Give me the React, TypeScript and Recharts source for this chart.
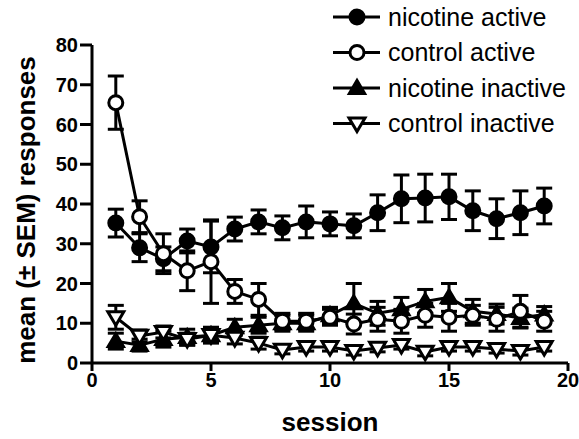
import React from 'react';
import { LineChart, Line, XAxis, YAxis, ErrorBar } from 'recharts';

const sessions = [1, 2, 3, 4, 5, 6, 7, 8, 9, 10, 11, 12, 13, 14, 15, 16, 17, 18, 19];
const nicActive = [35.2, 29, 26.2, 30.7, 29.2, 33.7, 35.5, 34, 35.5, 35, 34.5, 37.8, 41.3, 41.5, 41.8, 38.3, 36.3, 37.8, 39.5];
const nicActiveErr = [3.5, 3.5, 3, 3, 6.5, 3, 3, 3, 4, 3, 3, 4.5, 6, 6, 5.7, 5, 5, 5.5, 4.5];
const ctrlActive = [65.5, 36.8, 27.5, 23.2, 25.5, 18, 16, 10.5, 10.5, 11.5, 9.8, 11, 10.5, 12, 11.5, 12, 11, 13, 10.5];
const ctrlActiveErr = [6.7, 4, 5, 5, 10.5, 3, 4, 2, 2, 2, 2.5, 3, 3, 3, 3.5, 2.5, 3, 4, 2.5];
const nicInactive = [5.5, 4.5, 6, 6.5, 7, 9, 9.5, 10, 10, 12, 15, 12.5, 13.5, 15.5, 16.5, 13, 12.3, 11.3, 12.2];
const nicInactiveErr = [2, 1.5, 2, 2, 2, 2, 2, 2, 2, 2, 5, 3, 3, 3, 3.5, 3, 2.5, 2.5, 2];
const ctrlInactive = [11.5, 6.8, 7.8, 6, 7, 6.3, 5, 3.3, 4, 4, 3, 3.8, 4.5, 2.8, 4, 4, 3.5, 3, 4];
const ctrlInactiveErr = [3, 1.5, 1.5, 1.5, 1.5, 1.5, 1.5, 1, 1, 1, 1, 1, 1, 1, 1, 1, 1, 1, 1];

const xTicks = [0, 5, 10, 15, 20];
const yTicks = [0, 10, 20, 30, 40, 50, 60, 70, 80];

const seriesNames = ['nicotine active', 'control active', 'nicotine inactive', 'control inactive'];

const data = sessions.map((s, i) => ({
  session: s,
  na: nicActive[i], naErr: nicActiveErr[i],
  ca: ctrlActive[i], caErr: ctrlActiveErr[i],
  ni: nicInactive[i], niErr: nicInactiveErr[i],
  ci: ctrlInactive[i], ciErr: ctrlInactiveErr[i],
}));

const FONT = 'Liberation Sans, Arial, sans-serif';

type Shape = 'filledCircle' | 'openCircle' | 'upTri' | 'downTri';

function Marker({ cx, cy, shape }: { cx: number; cy: number; shape: Shape }) {
  if (cx == null || cy == null) return null;
  if (shape === 'filledCircle') return <circle cx={cx} cy={cy} r={7.5} fill="#000" stroke="#000" strokeWidth={2} />;
  if (shape === 'openCircle') return <circle cx={cx} cy={cy} r={7} fill="#fff" stroke="#000" strokeWidth={3} />;
  if (shape === 'upTri') {
    const s = 8.5;
    return <polygon points={`${cx},${cy - s} ${cx - s},${cy + s * 0.7} ${cx + s},${cy + s * 0.7}`} fill="#000" stroke="#000" strokeWidth={2} strokeLinejoin="miter" />;
  }
  const s = 8;
  return <polygon points={`${cx - s},${cy - s * 0.7} ${cx + s},${cy - s * 0.7} ${cx},${cy + s}`} fill="#fff" stroke="#000" strokeWidth={3} strokeLinejoin="miter" />;
}

const shapes: Shape[] = ['filledCircle', 'openCircle', 'upTri', 'downTri'];

const dotFor = (shape: Shape) => (props: any) => <Marker key={`${shape}-${props.index}`} cx={props.cx} cy={props.cy} shape={shape} />;

const LegendBox = () => (
  <svg width={251} height={145} style={{ position: 'absolute', left: 328, top: 0 }}>
    {seriesNames.map((name, i) => {
      const y = 17 + i * 35.5;
      return (
        <g key={name}>
          <line x1={5} y1={y} x2={52} y2={y} stroke="#000" strokeWidth={3} />
          <Marker cx={29} cy={y} shape={shapes[i]} />
          <text x={60} y={y + 8.5} fontFamily={FONT} fontSize={25} fill="#000">{name}</text>
        </g>
      );
    })}
  </svg>
);

const YLabel = () => (
  <text x={35} y={210} transform="rotate(-90 35 210)" textAnchor="middle" fontFamily={FONT} fontWeight="bold" fontSize={26} fill="#000">
    mean (± SEM) responses
  </text>
);

const XLabel = () => (
  <text x={330} y={431} textAnchor="middle" fontFamily={FONT} fontWeight="bold" fontSize={26} fill="#000">
    session
  </text>
);

export default function App() {
  const errProps = { width: 8, strokeWidth: 3, stroke: '#000', direction: 'y' as const };
  return (
    <div style={{ position: 'absolute', left: 0, top: 0, width: 579, height: 439, overflow: 'hidden', background: '#fff' }}>
      <LineChart width={579} height={439} data={data} margin={{ top: 45, right: 11, left: 0, bottom: 26 }}>
        <XAxis
          dataKey="session"
          type="number"
          domain={[0, 20]}
          ticks={xTicks}
          tickSize={8}
          tickMargin={2}
          axisLine={{ stroke: '#000', strokeWidth: 3 }}
          tickLine={{ stroke: '#000', strokeWidth: 3 }}
          tick={{ fill: '#000', fontFamily: FONT, fontWeight: 'bold', fontSize: 20 }}
          height={50}
          label={{ content: () => <XLabel /> }}
        />
        <YAxis
          type="number"
          domain={[0, 80]}
          ticks={yTicks}
          tickSize={12}
          tickMargin={2}
          width={92}
          axisLine={{ stroke: '#000', strokeWidth: 3 }}
          tickLine={{ stroke: '#000', strokeWidth: 3 }}
          tick={{ fill: '#000', fontFamily: FONT, fontWeight: 'bold', fontSize: 20 }}
          label={{ content: () => <YLabel /> }}
        />
        <Line dataKey="na" name={seriesNames[0]} stroke="#000" strokeWidth={3} isAnimationActive={false} dot={dotFor('filledCircle')} activeDot={false}>
          <ErrorBar dataKey="naErr" {...errProps} />
        </Line>
        <Line dataKey="ni" name={seriesNames[2]} stroke="#000" strokeWidth={3} isAnimationActive={false} dot={dotFor('upTri')} activeDot={false}>
          <ErrorBar dataKey="niErr" {...errProps} />
        </Line>
        <Line dataKey="ca" name={seriesNames[1]} stroke="#000" strokeWidth={3} isAnimationActive={false} dot={dotFor('openCircle')} activeDot={false}>
          <ErrorBar dataKey="caErr" {...errProps} />
        </Line>
        <Line dataKey="ci" name={seriesNames[3]} stroke="#000" strokeWidth={3} isAnimationActive={false} dot={dotFor('downTri')} activeDot={false}>
          <ErrorBar dataKey="ciErr" {...errProps} />
        </Line>
      </LineChart>
      <LegendBox />
    </div>
  );
}
